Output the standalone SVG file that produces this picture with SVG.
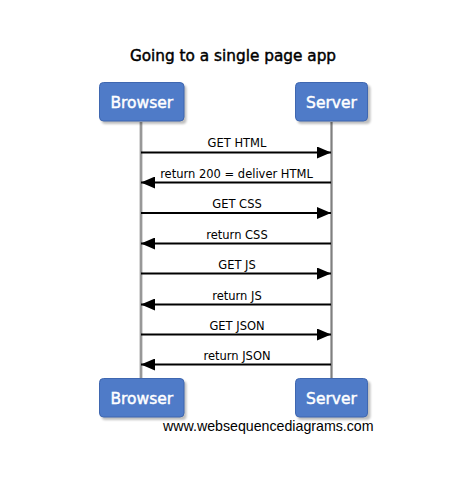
<svg xmlns="http://www.w3.org/2000/svg" width="464" height="497" viewBox="0 0 464 497">
<style>
.title{font-family:"DejaVu Sans",Verdana,sans-serif;font-size:15.3px;fill:#000;stroke:#000;stroke-width:0.45;text-anchor:middle}
.box{fill:#4f7bc8;stroke:#3f67b0;stroke-width:1}
.shadow{fill:#000;opacity:0.25}
.btxt{font-family:"DejaVu Sans",Verdana,sans-serif;font-size:15.5px;fill:#fff;stroke:#fff;stroke-width:0.45;text-anchor:middle}
.life{stroke:#b0b0b0;stroke-width:3;fill:none}
.lifec{stroke:#808080;stroke-width:1;fill:none}
.msg{stroke:#000;stroke-width:2;fill:none}
.lbl{font-family:"DejaVu Sans",Verdana,sans-serif;font-size:11.5px;fill:#000;text-anchor:middle}
.wm{font-family:"Liberation Sans",Arial,sans-serif;font-size:14.2px;fill:#000}
</style>
<defs>
<marker id="ah" markerWidth="14" markerHeight="12" refX="14" refY="6" orient="auto" markerUnits="userSpaceOnUse">
<path d="M0,0 L14,6 L0,12 Z" fill="#000"/>
</marker>
<filter id="blur" x="-10%" y="-10%" width="130%" height="140%"><feGaussianBlur stdDeviation="1.2"/></filter>
</defs>
<rect width="464" height="497" fill="#fff"/>
<text class="title" x="233" y="61">Going to a single page app</text>
<g id="lifelines">
<line class="life" x1="141" y1="122" x2="141" y2="378"/>
<line class="lifec" x1="141" y1="122" x2="141" y2="378"/>
<line class="life" x1="331.5" y1="122" x2="331.5" y2="378"/>
<line class="lifec" x1="331.5" y1="122" x2="331.5" y2="378"/>
</g>
<g id="browser-top">
<rect class="shadow" x="101.5" y="85" width="85" height="39" rx="4" filter="url(#blur)"/>
<rect class="box" x="99.5" y="82.5" width="84.5" height="38.5" rx="4"/>
<text class="btxt" x="141.8" y="108">Browser</text>
</g>
<g id="server-top">
<rect class="shadow" x="297.5" y="85" width="73" height="39" rx="4" filter="url(#blur)"/>
<rect class="box" x="295.5" y="82.5" width="72" height="38.5" rx="4"/>
<text class="btxt" x="331.5" y="108">Server</text>
</g>
<g id="browser-bottom">
<rect class="shadow" x="101.5" y="381" width="85" height="39" rx="4" filter="url(#blur)"/>
<rect class="box" x="99.5" y="378.5" width="84.5" height="38.5" rx="4"/>
<text class="btxt" x="141.8" y="404">Browser</text>
</g>
<g id="server-bottom">
<rect class="shadow" x="297.5" y="381" width="73" height="39" rx="4" filter="url(#blur)"/>
<rect class="box" x="295.5" y="378.5" width="72" height="38.5" rx="4"/>
<text class="btxt" x="331.5" y="404">Server</text>
</g>
<g id="messages">
<line class="msg" x1="141" y1="152.5" x2="331" y2="152.5" marker-end="url(#ah)"/>
<text class="lbl" x="237" y="147">GET HTML</text>
<line class="msg" x1="331" y1="182.5" x2="141" y2="182.5" marker-end="url(#ah)"/>
<text class="lbl" x="236.5" y="177.5">return 200 = deliver HTML</text>
<line class="msg" x1="141" y1="213" x2="331" y2="213" marker-end="url(#ah)"/>
<text class="lbl" x="237" y="208">GET CSS</text>
<line class="msg" x1="331" y1="243.5" x2="141" y2="243.5" marker-end="url(#ah)"/>
<text class="lbl" x="237" y="238.5">return CSS</text>
<line class="msg" x1="141" y1="273.5" x2="331" y2="273.5" marker-end="url(#ah)"/>
<text class="lbl" x="237" y="268.5">GET JS</text>
<line class="msg" x1="331" y1="304.5" x2="141" y2="304.5" marker-end="url(#ah)"/>
<text class="lbl" x="237" y="299.5">return JS</text>
<line class="msg" x1="141" y1="334.5" x2="331" y2="334.5" marker-end="url(#ah)"/>
<text class="lbl" x="237" y="329.5">GET JSON</text>
<line class="msg" x1="331" y1="364.5" x2="141" y2="364.5" marker-end="url(#ah)"/>
<text class="lbl" x="237" y="359.5">return JSON</text>
</g>
<text class="wm" x="163" y="431">www.websequencediagrams.com</text>
</svg>
